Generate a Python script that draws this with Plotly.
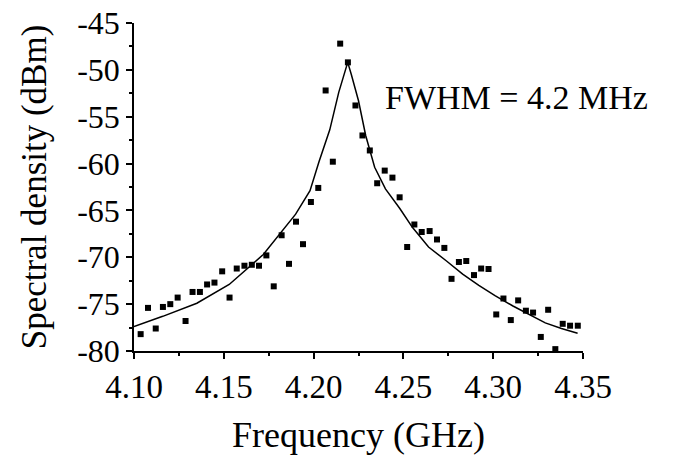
import plotly.graph_objects as go

# Measured data points (frequency in GHz, spectral density in dBm)
freq = [4.1037, 4.1078, 4.1121, 4.1161, 4.1202, 4.1243, 4.1287, 4.1326, 4.1367, 4.1407,
        4.1448, 4.1491, 4.1532, 4.1572, 4.1615, 4.1656, 4.1696, 4.1737, 4.1778, 4.1822,
        4.1863, 4.1902, 4.1941, 4.1985, 4.2026, 4.2067, 4.2107, 4.2148, 4.2191, 4.2233,
        4.2272, 4.2313, 4.2354, 4.2396, 4.2439, 4.2479, 4.2521, 4.2561, 4.2602, 4.2646,
        4.2687, 4.2728, 4.2768, 4.2809, 4.2850, 4.2893, 4.2933, 4.2974, 4.3017, 4.3057,
        4.3098, 4.3139, 4.3182, 4.3222, 4.3265, 4.3306, 4.3346, 4.3387, 4.3428, 4.3471]
density = [-78.2, -75.4, -77.6, -75.3, -75.0, -74.3, -76.8, -73.7, -73.7, -72.9,
           -72.7, -71.5, -74.3, -71.2, -70.9, -70.8, -70.9, -69.8, -73.1, -67.65,
           -70.7, -66.2, -68.6, -64.1, -62.6, -52.2, -59.8, -47.2, -49.2, -53.8,
           -57.0, -58.6, -62.1, -60.75, -61.5, -63.6, -68.9, -66.5, -67.3, -67.2,
           -68.1, -69.0, -72.3, -70.5, -70.4, -71.9, -71.2, -71.25, -76.1, -74.4,
           -76.7, -74.6, -75.7, -75.9, -78.5, -75.6, -79.8, -77.1, -77.3, -77.3]

# Fitted curve
fit_freq = [4.100, 4.116, 4.135, 4.153, 4.172, 4.181, 4.190, 4.198, 4.203, 4.209,
            4.214, 4.2165, 4.219, 4.221, 4.225, 4.229, 4.234, 4.240, 4.248, 4.255,
            4.264, 4.274, 4.283, 4.292, 4.301, 4.311, 4.320, 4.329, 4.338, 4.347]
fit_density = [-77.4, -76.3, -74.9, -72.9, -69.7, -67.6, -65.4, -62.9, -59.8, -56.4,
               -52.4, -50.8, -49.2, -50.5, -53.3, -57.0, -60.4, -62.7, -64.8, -66.8,
               -68.9, -70.4, -71.8, -73.0, -74.1, -75.2, -76.1, -77.0, -77.6, -78.1]

x_ticks = [4.10, 4.15, 4.20, 4.25, 4.30, 4.35]
x_ticklabels = ["4.10", "4.15", "4.20", "4.25", "4.30", "4.35"]
y_ticks = [-80, -75, -70, -65, -60, -55, -50, -45]
y_ticklabels = ["-80", "-75", "-70", "-65", "-60", "-55", "-50", "-45"]

FONT = "Liberation Serif, Times New Roman, serif"

fig = go.Figure()
fig.add_trace(go.Scatter(x=fit_freq, y=fit_density, mode="lines",
                         line=dict(color="black", width=1.5), showlegend=False))
fig.add_trace(go.Scatter(x=freq, y=density, mode="markers",
                         marker=dict(symbol="square", size=6, color="black"),
                         showlegend=False))

fig.add_annotation(x=4.2385, y=-52.9, xref="x", yref="y", text="FWHM = 4.2 MHz",
                   showarrow=False, xanchor="left", yanchor="middle",
                   font=dict(family=FONT, size=34, color="black"))

fig.update_layout(
    width=673, height=457,
    margin=dict(l=134, r=90, t=23, b=106),
    paper_bgcolor="white", plot_bgcolor="white",
    font=dict(family=FONT, color="black"),
    xaxis=dict(range=[4.10, 4.35], tickvals=x_ticks, ticktext=x_ticklabels,
               automargin=False,
               showgrid=False, zeroline=False, showline=True, linecolor="black", linewidth=1.5,
               ticks="outside", ticklen=6, tickwidth=1.5, tickcolor="black",
               tickfont=dict(family=FONT, size=33, color="black"),
               minor=dict(dtick=0.025, tick0=4.10, ticks="outside", ticklen=3, tickwidth=1.5,
                          tickcolor="black", showgrid=False),
               title=dict(text="Frequency (GHz)", font=dict(family=FONT, size=36, color="black"),
                          standoff=17)),
    yaxis=dict(range=[-80, -45], tickvals=y_ticks, ticktext=y_ticklabels,
               automargin=False,
               showgrid=False, zeroline=False, showline=True, linecolor="black", linewidth=1.5,
               ticks="outside", ticklen=6, tickwidth=1.5, tickcolor="black",
               tickfont=dict(family=FONT, size=32, color="black"),
               minor=dict(dtick=2.5, tick0=-80, ticks="outside", ticklen=3, tickwidth=1.5,
                          tickcolor="black", showgrid=False),
               title=dict(text="Spectral density (dBm)", font=dict(family=FONT, size=35, color="black"),
                          standoff=20)),
)

fig.write_html("out.html", config={"displayModeBar": False},
               post_script="document.body.style.margin='0';")
